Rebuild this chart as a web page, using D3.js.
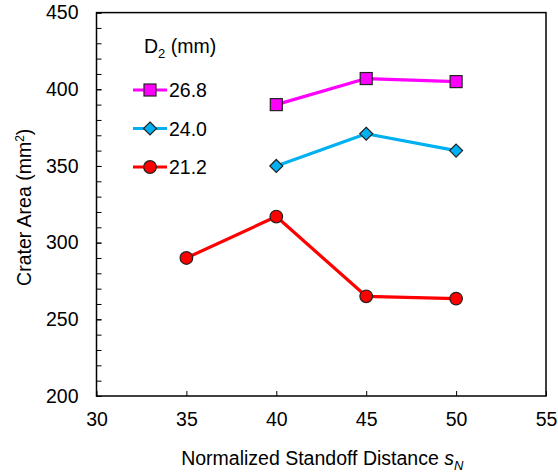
<!DOCTYPE html>
<html>
<head>
<meta charset="utf-8">
<script src="https://cdn.jsdelivr.net/npm/d3@7"></script>
<style>
  html, body { margin: 0; padding: 0; background: #fff; }
  svg { display: block; font-family: "Liberation Sans", Arial, sans-serif; }
</style>
</head>
<body>
<svg id="chart" width="558" height="474"></svg>
<script>
// Data
const xTicks = [30, 35, 40, 45, 50, 55];
const yTicks = [200, 250, 300, 350, 400, 450];
const seriesNames = ["26.8", "24.0", "21.2"];
const seriesColors = ["#FF00FF", "#00B0F0", "#FF0000"];
const seriesMarkers = ["square", "diamond", "circle"];
const x268 = [40, 45, 50];
const y268 = [390, 407, 405];
const x240 = [40, 45, 50];
const y240 = [350, 371, 360];
const x212 = [35, 40, 45, 50];
const y212 = [290, 317, 265, 263.5];

const series = [
  { name: seriesNames[0], color: seriesColors[0], marker: seriesMarkers[0], xs: x268, ys: y268 },
  { name: seriesNames[1], color: seriesColors[1], marker: seriesMarkers[1], xs: x240, ys: y240 },
  { name: seriesNames[2], color: seriesColors[2], marker: seriesMarkers[2], xs: x212, ys: y212 }
];

const svg = d3.select("#chart");
const L = 96.5, R = 546, T = 12.6, B = 396;
const x = d3.scaleLinear().domain([30, 55]).range([L, R]);
const y = d3.scaleLinear().domain([200, 450]).range([B, T]);
const fs = 19.5;

// axes with inward ticks
const xAxis = d3.axisBottom(x).tickValues(xTicks).tickSize(-5).tickPadding(16).tickFormat(d3.format("d"));
const gx = svg.append("g").attr("transform", `translate(0,${B})`).call(xAxis);
const yMinor = d3.range(200, 451, 10);
const yAxisMinor = d3.axisLeft(y).tickValues(yMinor).tickSize(-5).tickFormat("");
svg.append("g").attr("transform", `translate(${L},0)`).call(yAxisMinor).call(g => g.select(".domain").remove());
const yAxis = d3.axisLeft(y).tickValues(yTicks).tickSize(-5).tickPadding(18).tickFormat(d3.format("d"));
const gy = svg.append("g").attr("transform", `translate(${L},0)`).call(yAxis);

[gx, gy].forEach(g => {
  g.select(".domain").remove();
  g.selectAll("text").attr("font-size", fs).attr("fill", "#000").attr("font-family", "Liberation Sans, Arial, sans-serif");
});
svg.selectAll(".tick line").attr("stroke", "#000").attr("stroke-width", 1);

// frame
svg.append("rect").attr("x", L).attr("y", T).attr("width", R - L).attr("height", B - T)
  .attr("fill", "none").attr("stroke", "#000").attr("stroke-width", 1.5);

// axis titles
const xt = svg.append("text").attr("x", (L + R) / 2 + 1).attr("y", 465).attr("text-anchor", "middle")
  .attr("font-size", fs).attr("fill", "#000");
xt.append("tspan").text("Normalized Standoff Distance ");
xt.append("tspan").attr("font-style", "italic").text("s");
xt.append("tspan").attr("font-style", "italic").attr("font-size", 13).attr("dy", 5).text("N");

const yt = svg.append("text").attr("transform", `translate(31,${(T + B) / 2 + 3}) rotate(-90)`)
  .attr("text-anchor", "middle").attr("font-size", fs).attr("fill", "#000");
yt.append("tspan").text("Crater Area (mm");
yt.append("tspan").attr("font-size", 12).attr("dy", -7).text("2");
yt.append("tspan").attr("dy", 7).text(")");

// markers
function drawMarker(g, type, cx, cy, color) {
  if (type === "square") {
    g.append("rect").attr("x", cx - 6).attr("y", cy - 6).attr("width", 12).attr("height", 12)
      .attr("fill", color).attr("stroke", "#222").attr("stroke-width", 1.2);
  } else if (type === "diamond") {
    g.append("path").attr("d", `M${cx},${cy - 6.5}L${cx + 6.5},${cy}L${cx},${cy + 6.5}L${cx - 6.5},${cy}Z`)
      .attr("fill", color).attr("stroke", "#222").attr("stroke-width", 1.2);
  } else {
    g.append("circle").attr("cx", cx).attr("cy", cy).attr("r", 6.3)
      .attr("fill", color).attr("stroke", "#222").attr("stroke-width", 1.2);
  }
}

const line = d3.line().x(d => x(d[0])).y(d => y(d[1]));
series.forEach(s => {
  const pts = s.xs.map((v, i) => [v, s.ys[i]]);
  svg.append("path").datum(pts).attr("d", line).attr("fill", "none")
    .attr("stroke", s.color).attr("stroke-width", 3.2).attr("stroke-linejoin", "round");
  const g = svg.append("g");
  pts.forEach(p => drawMarker(g, s.marker, x(p[0]), y(p[1]), s.color));
});

// legend
const lt = svg.append("text").attr("x", 144).attr("y", 53).attr("font-size", fs).attr("fill", "#000");
lt.append("tspan").text("D");
lt.append("tspan").attr("font-size", 13).attr("dy", 5).text("2");
lt.append("tspan").attr("dy", -5).text(" (mm)");

const legY = [90, 128.5, 167];
series.forEach((s, i) => {
  const g = svg.append("g");
  g.append("line").attr("x1", 133).attr("x2", 167).attr("y1", legY[i]).attr("y2", legY[i])
    .attr("stroke", s.color).attr("stroke-width", 3.2);
  drawMarker(g, s.marker, 150, legY[i], s.color);
  g.append("text").attr("x", 169).attr("y", legY[i] + 7).attr("font-size", fs).attr("fill", "#000").text(s.name);
});
</script>
</body>
</html>
